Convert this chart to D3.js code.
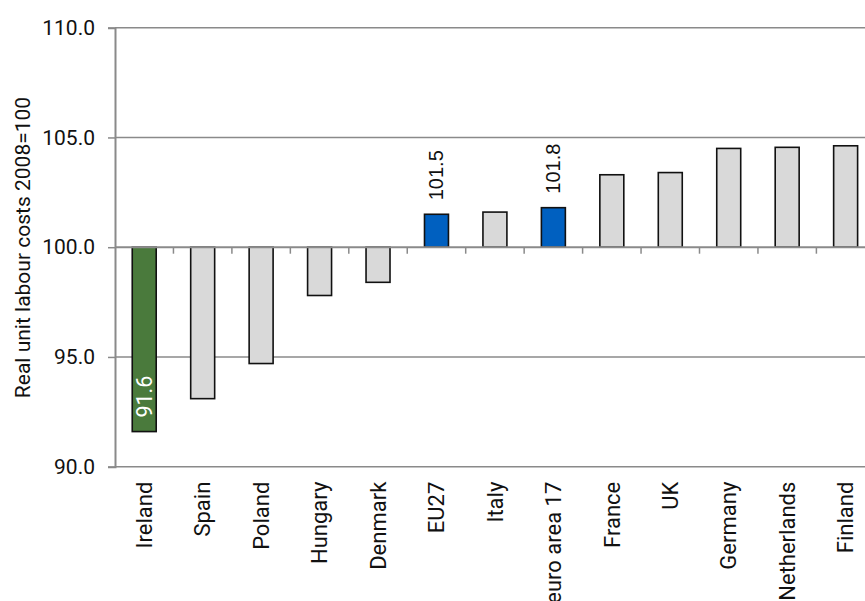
<!DOCTYPE html>
<html>
<head>
<meta charset="utf-8">
<script src="https://cdn.jsdelivr.net/npm/d3@7"></script>
<style>
  html, body { margin: 0; padding: 0; background: #fff; }
  svg { display: block; }
</style>
</head>
<body>
<svg id="chart" width="865" height="601"></svg>
<script>
const categories = ["Ireland", "Spain", "Poland", "Hungary", "Denmark", "EU27", "Italy", "euro area 17", "France", "UK", "Germany", "Netherlands", "Finland"];
const values = [91.6, 93.1, 94.7, 97.8, 98.4, 101.5, 101.6, 101.8, 103.3, 103.4, 104.5, 104.55, 104.62];
const barKinds = ["highlight", "other", "other", "other", "other", "aggregate", "other", "aggregate", "other", "other", "other", "other", "other"];
const labelled = ["Ireland", "EU27", "euro area 17"];
const yTicks = [90, 95, 100, 105, 110];
const yTitle = "Real unit labour costs 2008=100";

(function () {
const colors = { highlight: "#4a7a3c", aggregate: "#0060c0", other: "#d9d9d9" };
const FONT = "Roboto";

const svg = d3.select("#chart");
const mLeft = 115, mTop = 27.7, mBottom = 466.7;
const step = 58.45;
const mRight = mLeft + categories.length * step;

const x = d3.scaleBand().domain(categories).range([mLeft, mRight]).paddingInner(0.59).paddingOuter(0.295);
const y = d3.scaleLinear().domain([90, 110]).range([mBottom, mTop]);

const data = categories.map((c, i) => ({ name: c, value: values[i], kind: barKinds[i] }));

// gridlines
svg.append("g").selectAll("line").data(yTicks.filter(t => t !== 100)).join("line")
  .attr("x1", mLeft).attr("x2", 865)
  .attr("y1", d => y(d)).attr("y2", d => y(d))
  .attr("stroke", "#8a8a8a").attr("stroke-width", 1.5);

// y axis
const yAxis = d3.axisLeft(y).tickValues(yTicks).tickFormat(d3.format(".1f")).tickSize(7).tickPadding(13);
const gy = svg.append("g").attr("transform", `translate(${mLeft},0)`).call(yAxis);
gy.select(".domain").attr("stroke", "#8a8a8a").attr("stroke-width", 2);
gy.selectAll(".tick line").attr("stroke", "#8a8a8a").attr("stroke-width", 1.5);
gy.selectAll(".tick text").attr("font-family", FONT).attr("font-size", "21px").attr("fill", "#111");

// bars
svg.append("g").selectAll("rect").data(data).join("rect")
  .attr("x", d => x(d.name))
  .attr("width", x.bandwidth())
  .attr("y", d => y(Math.max(d.value, 100)))
  .attr("height", d => Math.abs(y(d.value) - y(100)))
  .attr("fill", d => colors[d.kind])
  .attr("stroke", "#111").attr("stroke-width", 1.6);

// x axis at 100
const gx = svg.append("g");
gx.append("line").attr("x1", mLeft).attr("x2", 865).attr("y1", y(100)).attr("y2", y(100))
  .attr("stroke", "#8a8a8a").attr("stroke-width", 2);
const boundaries = d3.range(1, categories.length + 1).map(i => mLeft + i * step);
gx.selectAll("line.tk").data(boundaries).join("line").attr("class", "tk")
  .attr("x1", d => d).attr("x2", d => d)
  .attr("y1", y(100)).attr("y2", y(100) + 6.5)
  .attr("stroke", "#8a8a8a").attr("stroke-width", 1.5);

// category labels
svg.append("g").selectAll("text").data(categories).join("text")
  .attr("transform", d => `translate(${x(d) + x.bandwidth() / 2},${mBottom + 15}) rotate(-90)`)
  .attr("text-anchor", "end")
  .attr("dy", "0.35em")
  .attr("font-family", FONT).attr("font-size", "22px").attr("fill", "#111")
  .text(d => d);

// data labels
svg.append("g").selectAll("text").data(data.filter(d => labelled.includes(d.name))).join("text")
  .attr("transform", d => {
    const cx = x(d.name) + x.bandwidth() / 2;
    const yy = y(d.value) - 14;
    return `translate(${cx},${yy}) rotate(-90)`;
  })
  .attr("text-anchor", "start")
  .attr("dy", "0.35em")
  .attr("font-family", d => d.value < 100 ? FONT : "Liberation Sans")
  .attr("font-size", d => d.value < 100 ? "21.5px" : "20px")
  .attr("fill", d => d.value < 100 ? "#fff" : "#111")
  .text(d => d3.format(".1f")(d.value));

// y title
svg.append("text")
  .attr("transform", `translate(22.5,247.5) rotate(-90)`)
  .attr("text-anchor", "middle")
  .attr("dy", "0.35em")
  .attr("font-family", FONT).attr("font-size", "21px").attr("fill", "#111")
  .text(yTitle);
})();
</script>
</body>
</html>
